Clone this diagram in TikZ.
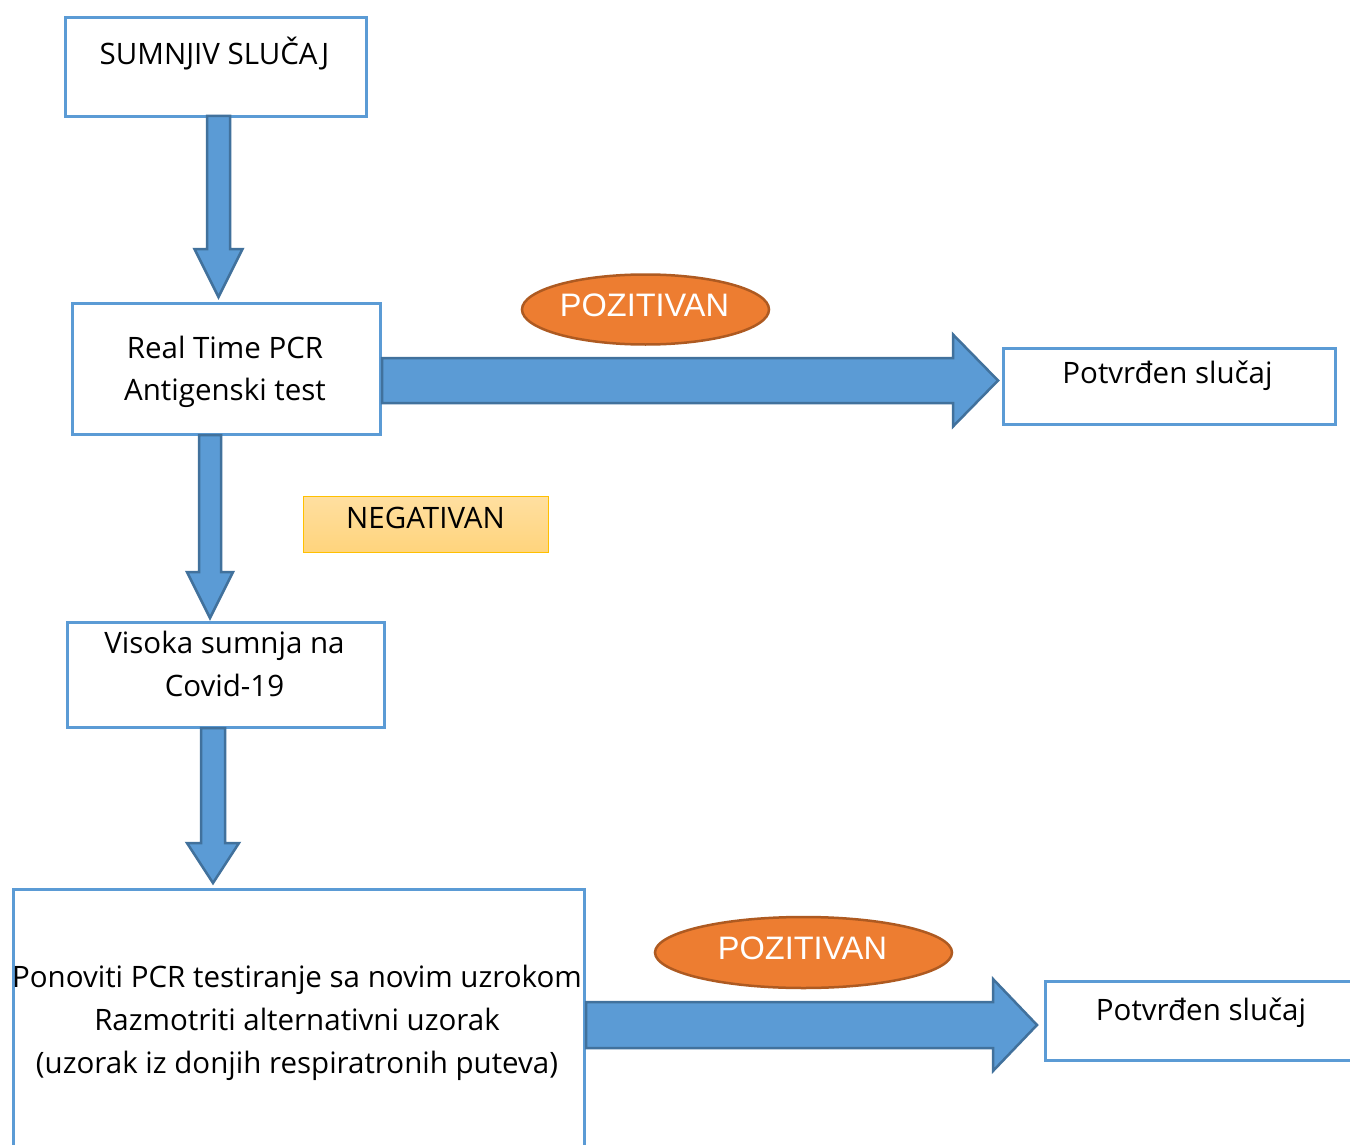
\documentclass[tikz,border=0pt]{standalone}
\usepackage{fontspec}
\setmainfont{Open Sans}
\newfontfamily\arialf{Liberation Sans}
\usetikzlibrary{calc,shapes.geometric}
\definecolor{boxblue}{HTML}{5B9BD5}
\definecolor{arrowedge}{HTML}{41719C}
\definecolor{ovalfill}{HTML}{ED7D31}
\definecolor{ovaledge}{HTML}{AE5A21}
\definecolor{negtop}{HTML}{FFDFA0}
\definecolor{negbot}{HTML}{FFD47C}
\definecolor{negedge}{HTML}{FFC000}
\tikzset{
  box/.style={draw=boxblue, line width=3pt, fill=white, rectangle, inner sep=0pt, anchor=north west},
  txt/.style={font=\fontsize{29.5}{43}\selectfont, text=black, inner sep=0pt, anchor=base},
  oval/.style={ellipse, draw=ovaledge, line width=2.5pt, fill=ovalfill, inner sep=0pt},
  ovaltxt/.style={font=\arialf\fontsize{32.5}{36}\selectfont, text=white, inner sep=0pt, anchor=base},
  blockarrow/.style={fill=boxblue, draw=arrowedge, line width=2.5pt, line join=miter},
}
% vertical block arrow: x, y-start, y-end(tip), shaft half width, head half width, head length
\newcommand\vblockarrow[6]{%
  \draw[blockarrow] (#1-#4,#2) -- (#1+#4,#2) -- (#1+#4,#3-#6) -- (#1+#5,#3-#6) -- (#1,#3)
    -- (#1-#5,#3-#6) -- (#1-#4,#3-#6) -- cycle;}
% horizontal block arrow: y, x-start, x-end(tip), shaft half width, head half width, head length
\newcommand\hblockarrow[6]{%
  \draw[blockarrow] (#2,#1-#4) -- (#3-#6,#1-#4) -- (#3-#6,#1-#5) -- (#3,#1) -- (#3-#6,#1+#5)
    -- (#3-#6,#1+#4) -- (#2,#1+#4) -- cycle;}
\begin{document}
\begin{tikzpicture}[x=1pt,y=-1pt]
\useasboundingbox[fill=white] (0,0) rectangle (1350,1145);

% boxes
\node[box, minimum width=301pt, minimum height=99pt] (b1) at (64,16) {};
\node[box, minimum width=308pt, minimum height=131pt] (b2) at (71,302) {};
\node[box, minimum width=332pt, minimum height=76pt] (b3) at (1002,347) {};
\node[box, minimum width=317pt, minimum height=105pt] (b4) at (66,621) {};
\node[box, minimum width=571pt, minimum height=280pt] (b5) at (12,888) {};
\node[box, minimum width=330pt, minimum height=79pt] (b6) at (1044,980) {};

% texts
\node[txt] (t1) at (214.5,65) {SUMNJIV SLUČAJ};
\node[txt] (t2a) at (225,358) {Real Time PCR};
\node[txt] (t2b) at (225,400) {Antigenski test};
\node[txt] (t3) at (1167.5,383) {Potvrđen slučaj};
\node[txt] (t4a) at (224.5,653) {Visoka sumnja na};
\node[txt] (t4b) at (224.5,696) {Covid-19};
\node[txt] (t5a) at (297,987) {Ponoviti PCR testiranje sa novim uzrokom};
\node[txt] (t5b) at (297,1030) {Razmotriti alternativni uzorak};
\node[txt] (t5c) at (297,1073) {(uzorak iz donjih respiratronih puteva)};
\node[txt] (t6) at (1201,1020) {Potvrđen slučaj};

% NEGATIVAN label
\node[rectangle, draw=negedge, line width=1.2pt, top color=negtop, bottom color=negbot,
      minimum width=245pt, minimum height=56pt, anchor=north west, inner sep=0pt] (neg) at (303,496) {};
\node[txt] (negt) at (425.5,528) {NEGATIVAN};

% block arrows
\vblockarrow{218.5}{116}{297}{11.5}{24}{48}
\vblockarrow{210}{435}{618}{11}{23}{46}
\vblockarrow{213}{728}{883}{12}{26}{40}
\hblockarrow{380.5}{382}{998}{22.5}{46}{45}
\hblockarrow{1025}{586}{1037}{23}{46}{44}

% POZITIVAN ovals
\node[oval, minimum width=247pt, minimum height=70pt] (p1) at (645.5,309.5) {};
\node[ovaltxt] (p1t) at (644.5,316.5) {POZITIVAN};
\node[oval, minimum width=297pt, minimum height=71pt] (p2) at (803.5,952.5) {};
\node[ovaltxt] (p2t) at (802.5,959.5) {POZITIVAN};
\end{tikzpicture}
\end{document}
